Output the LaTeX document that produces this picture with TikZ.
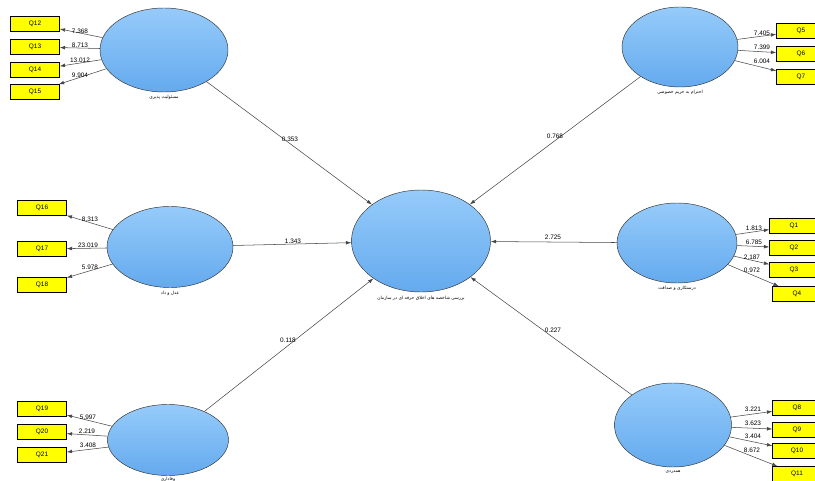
\documentclass[tikz,border=0pt]{standalone}
\usepackage{fontspec}
\setmainfont{Liberation Sans}
\newfontfamily\fafont[Script=Arabic]{DejaVu Sans}
\TeXXeTstate=1
\usepackage{xcolor}
\usetikzlibrary{positioning, shapes.geometric, arrows.meta}
\definecolor{latentTop}{RGB}{150,203,250}
\definecolor{latentBottom}{RGB}{100,170,238}
\definecolor{itemYellow}{RGB}{255,255,0}
\definecolor{linkGray}{RGB}{70,70,70}

\begin{document}
\begin{tikzpicture}[
			x=0.03cm, y=-0.03cm,
			latent/.style={
				ellipse,
				draw=black!80,
				thin,
				top color=latentTop,
				bottom color=latentBottom,
				inner sep=0pt
			},
			indicator/.style={
				rectangle,
				draw=black,
				fill=itemYellow,
				minimum width=1.47cm,
				minimum height=0.45cm,
				inner sep=0pt,
				font=\fontsize{5.5}{6}\selectfont
			},
			link/.style={
				linkGray,
				line width=0.45pt,
				-{Latex[length=1.6mm,width=1.1mm]}
			},
			coef/.style={
				inner sep=0pt,
				font=\fontsize{5.5}{6}\selectfont
			},
			fatext/.style={
				inner sep=0pt,
				font=\fafont\fontsize{3.8}{4}\selectfont
			}
			]
			
			\clip (0,0) rectangle (815,481);
			
			% Latent variables
			\node[latent, minimum width=3.84cm, minimum height=2.52cm] (strat) at (164,50) {};
			\node[latent, minimum width=3.48cm, minimum height=2.40cm] (priv) at (680,47) {};
			\node[latent, minimum width=3.78cm, minimum height=2.43cm] (just) at (170,247) {};
			\node[latent, minimum width=3.60cm, minimum height=2.40cm] (honest) at (677,243) {};
			\node[latent, minimum width=3.63cm, minimum height=2.13cm] (loyal) at (168,440) {};
			\node[latent, minimum width=3.51cm, minimum height=2.52cm] (empath) at (673,425) {};
			\node[latent, minimum width=4.17cm, minimum height=3.06cm] (ethics) at (421,241) {};
			
			% Labels below latent variables
			\node[fatext, below=0.8mm of strat] {\beginR مسئولیت پذیری\endR};
			\node[fatext, below=0.8mm of priv] {\beginR احترام به حریم خصوصی\endR};
			\node[fatext, below=0.8mm of just] {\beginR عدل و داد\endR};
			\node[fatext, below=0.8mm of honest] {\beginR درستکاری و صداقت\endR};
			\node[fatext, below=0.3mm of loyal] {\beginR وفاداری\endR};
			\node[fatext, below=0.8mm of empath] {\beginR همدردی\endR};
			\node[fatext, below=1.2mm of ethics] {\beginR بررسی شاخصه های اخلاق حرفه ای در سازمان\endR};
			
			% Indicators
			\node[indicator] (q12) at (35,24) {Q12};
			\node[indicator] (q13) at (35,47) {Q13};
			\node[indicator] (q14) at (35,70) {Q14};
			\node[indicator] (q15) at (35,92) {Q15};
			\node[indicator] (q5) at (801,31) {Q5};
			\node[indicator] (q6) at (801,54) {Q6};
			\node[indicator] (q7) at (801,77) {Q7};
			\node[indicator] (q16) at (42,208) {Q16};
			\node[indicator] (q17) at (42,249) {Q17};
			\node[indicator] (q18) at (42,285) {Q18};
			\node[indicator] (q1) at (794,226) {Q1};
			\node[indicator] (q2) at (794,248) {Q2};
			\node[indicator] (q3) at (794,270) {Q3};
			\node[indicator] (q4) at (797,294) {Q4};
			\node[indicator] (q19) at (42,409) {Q19};
			\node[indicator] (q20) at (42,432) {Q20};
			\node[indicator] (q21) at (42,455) {Q21};
			\node[indicator] (q8) at (797,408) {Q8};
			\node[indicator] (q9) at (797,430) {Q9};
			\node[indicator] (q10) at (797,451) {Q10};
			\node[indicator] (q11) at (797,474) {Q11};
			
			% Structural paths
			\draw[link] (strat) -- (ethics);
			\draw[link] (priv) -- (ethics);
			\draw[link] (just) -- (ethics);
			\draw[link] (honest) -- (ethics);
			\draw[link] (loyal) -- (ethics);
			\draw[link] (empath) -- (ethics);
			\node[coef] at (290,139) {0.353};
			\node[coef] at (555,136) {0.768};
			\node[coef] at (293,241) {1.343};
			\node[coef] at (553,237) {2.725};
			\node[coef] at (288,340) {0.118};
			\node[coef] at (553,330) {0.227};
			
			% Measurement paths
			\draw[link] (strat) -- (q12);
			\draw[link] (strat) -- (q13);
			\draw[link] (strat) -- (q14);
			\draw[link] (strat) -- (q15);
			\node[coef] at (80,31) {7.368};
			\node[coef] at (80,45) {8.713};
			\node[coef] at (80,60) {13.012};
			\node[coef] at (80,75) {9.904};
			
			\draw[link] (priv) -- (q5);
			\draw[link] (priv) -- (q6);
			\draw[link] (priv) -- (q7);
			\node[coef] at (762,33) {7.405};
			\node[coef] at (762,47) {7.399};
			\node[coef] at (762,61) {6.004};
			
			\draw[link] (just) -- (q16);
			\draw[link] (just) -- (q17);
			\draw[link] (just) -- (q18);
			\node[coef] at (90,219) {8.313};
			\node[coef] at (88,245) {23.019};
			\node[coef] at (90,267) {5.978};
			
			\draw[link] (honest) -- (q1);
			\draw[link] (honest) -- (q2);
			\draw[link] (honest) -- (q3);
			\draw[link] (honest) -- (q4);
			\node[coef] at (754,228) {1.813};
			\node[coef] at (754,242) {6.785};
			\node[coef] at (752,257) {2.187};
			\node[coef] at (752,270) {0.972};
			
			\draw[link] (loyal) -- (q19);
			\draw[link] (loyal) -- (q20);
			\draw[link] (loyal) -- (q21);
			\node[coef] at (88,417) {5.997};
			\node[coef] at (87,431) {2.219};
			\node[coef] at (88,445) {3.408};
			
			\draw[link] (empath) -- (q8);
			\draw[link] (empath) -- (q9);
			\draw[link] (empath) -- (q10);
			\draw[link] (empath) -- (q11);
			\node[coef] at (753,409) {3.221};
			\node[coef] at (753,423) {3.623};
			\node[coef] at (753,436) {3.404};
			\node[coef] at (752,450) {8.672};
			
		\end{tikzpicture}
\end{document}
